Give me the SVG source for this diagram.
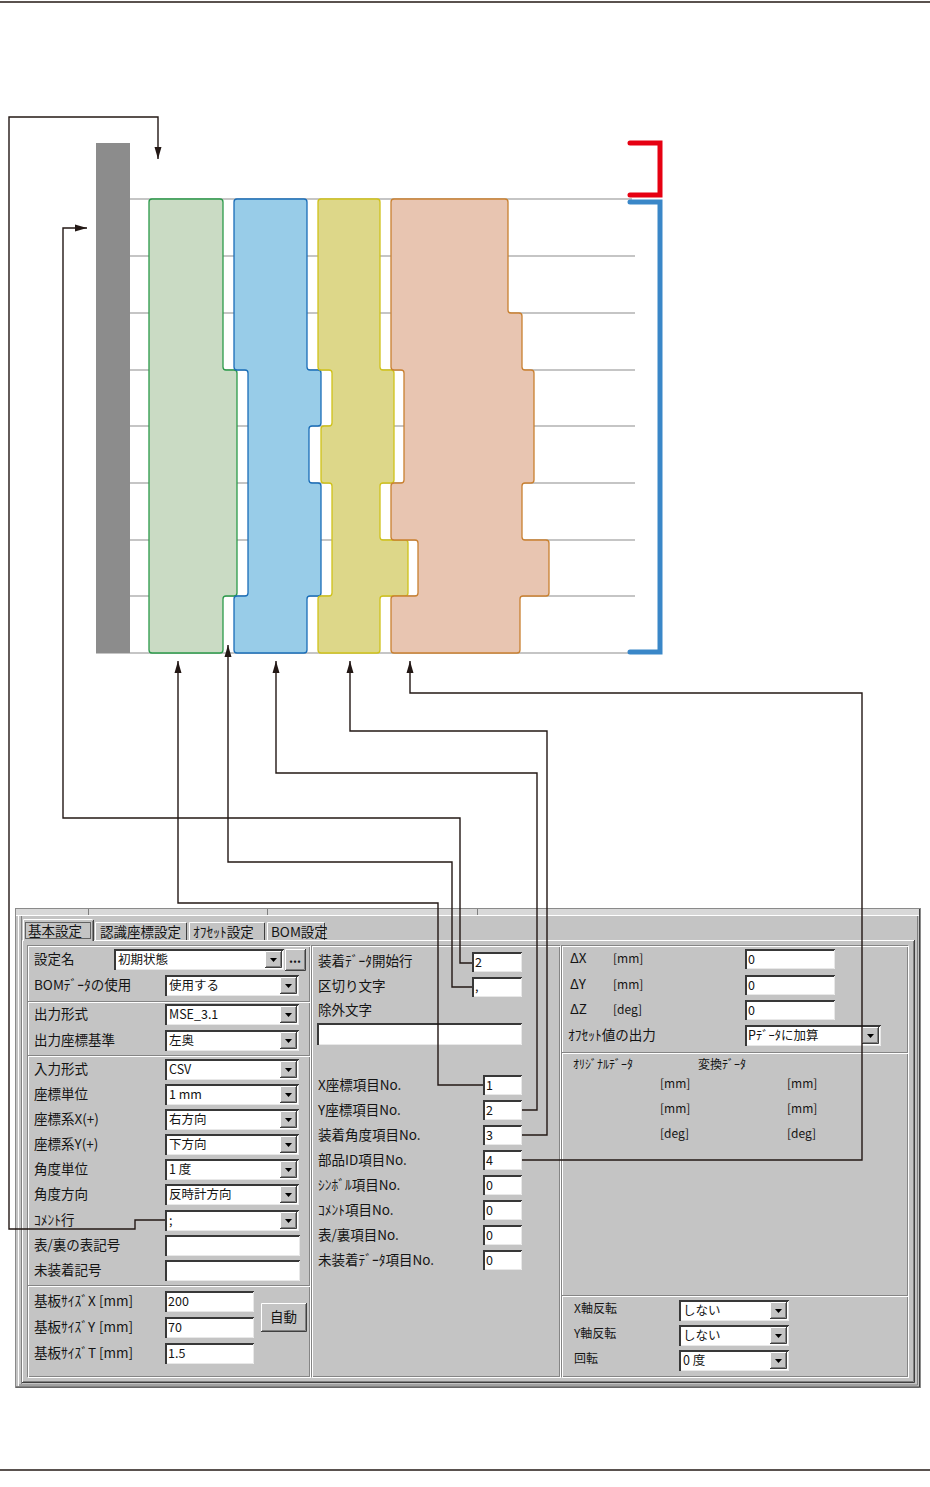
<svg xmlns="http://www.w3.org/2000/svg" width="930" height="1487" viewBox="0 0 930 1487">
<style>
.t{font-family:"Noto Sans CJK JP","Noto Sans CJK SC",sans-serif;font-size:13.5px;fill:#141414}
.v{font-family:"Noto Sans CJK JP","Noto Sans CJK SC",sans-serif;font-size:12.5px;fill:#141414}
.s{font-family:"Noto Sans CJK JP","Noto Sans CJK SC",sans-serif;font-size:12px;fill:#141414}
.grid{stroke:#8c8c8c;stroke-width:1.2;fill:none}
.col{stroke-width:1.3;stroke-linejoin:round}
.con{fill:none;stroke:#231815;stroke-width:1.4;marker-end:url(#ah)}
.fw{fill:#fff}
.fd{fill:none;stroke:#383838;stroke-width:2}
.fl{fill:none;stroke:#e8e8e8;stroke-width:1}
.gd{fill:none;stroke:#858585;stroke-width:1}
.gw{fill:none;stroke:#fff;stroke-width:1}
.dk{fill:none;stroke:#404040;stroke-width:1}
.md{fill:none;stroke:#808080;stroke-width:1}
.face{fill:#c4c4c4}
</style>
<defs>
<marker id="ah" markerUnits="userSpaceOnUse" markerWidth="13" markerHeight="8" refX="12" refY="4" orient="auto" viewBox="0 0 13 8"><path d="M0,0.5 L12,4 L0,7.5 z" fill="#231815"/></marker>
<g id="dd">
<rect width="17" height="17" fill="#c4c4c4"/>
<path d="M0.5,17 V0.5 H17" fill="none" stroke="#fff"/>
<path d="M16.5,0 V16.5 H0" fill="none" stroke="#404040"/>
<path d="M15.5,1 V15.5 H1" fill="none" stroke="#808080"/>
<path d="M5,7 h7 l-3.5,4 z" fill="#000"/>
</g>
</defs>

<rect width="930" height="1487" fill="#fff"/>
<line x1="0" y1="2" x2="930" y2="2" stroke="#231815" stroke-width="1.4"/>
<line x1="0" y1="1470" x2="930" y2="1470" stroke="#231815" stroke-width="1.4"/>

<g id="board">
<rect x="96" y="143" width="34" height="510" fill="#8c8c8c"/>
<path class="grid" d="M130,199H632M130,256H635M130,313H635M130,370H635M130,426H635M130,483H635M130,540H635M130,596H635M96,653H632"/>
</g>
<g id="bracket-red"><path d="M630,143H660V195H630" fill="none" stroke="#e60012" stroke-width="5" stroke-linecap="round"/></g>
<g id="bracket-blue"><path d="M630,202H660V652H630" fill="none" stroke="#3a87c8" stroke-width="5" stroke-linecap="round"/></g>

<g id="col-green"><path class="col" fill="#cadbc4" stroke="#2b9a4a" d="M152,199H220Q223,199 223,202V367Q223,370 226,370H234Q237,370 237,373V593Q237,596 234,596H226Q223,596 223,599V650Q223,653 220,653H152Q149,653 149,650V202Q149,199 152,199Z"/></g>
<g id="col-blue"><path class="col" fill="#98cce8" stroke="#1a6db8" d="M237,199H304Q307,199 307,202V367Q307,370 310,370H318Q321,370 321,373V423Q321,426 318,426H312Q309,426 309,429V480Q309,483 312,483H318Q321,483 321,486V593Q321,596 318,596H310Q307,596 307,599V650Q307,653 304,653H237Q234,653 234,650V599Q234,596 237,596H245Q248,596 248,593V373Q248,370 245,370H237Q234,370 234,367V202Q234,199 237,199Z"/></g>
<g id="col-yellow"><path class="col" fill="#ddd789" stroke="#d0c21a" d="M321,199H377Q380,199 380,202V367Q380,370 383,370H391Q394,370 394,373V480Q394,483 391,483H383Q380,483 380,486V537Q380,540 383,540H405Q408,540 408,543V593Q408,596 405,596H383Q380,596 380,599V650Q380,653 377,653H321Q318,653 318,650V599Q318,596 321,596H329Q332,596 332,593V486Q332,483 329,483H324Q321,483 321,480V429Q321,426 324,426H329Q332,426 332,423V373Q332,370 329,370H321Q318,370 318,367V202Q318,199 321,199Z"/></g>
<g id="col-orange"><path class="col" fill="#e8c5b1" stroke="#c98030" d="M394,199H505Q508,199 508,202V310Q508,313 511,313H519Q522,313 522,316V367Q522,370 525,370H531Q534,370 534,373V480Q534,483 531,483H525Q522,483 522,486V537Q522,540 525,540H546Q549,540 549,543V593Q549,596 546,596H523Q520,596 520,599V650Q520,653 517,653H394Q391,653 391,650V599Q391,596 394,596H415Q418,596 418,593V543Q418,540 415,540H394Q391,540 391,537V486Q391,483 394,483H401Q404,483 404,480V373Q404,370 401,370H394Q391,370 391,367V202Q391,199 394,199Z"/></g>

<g id="dialog">
<rect x="15.5" y="908.5" width="905" height="479" class="face" stroke="#8a8a8a"/>
<rect x="16" y="909" width="904" height="6" fill="#d8d8d8"/>
<path d="M16,915.5H920" class="gw"/>
<path d="M88.5,909V915M267.5,909V915M477.5,909V915" class="md"/>
<path d="M18.5,916V1386" class="gw"/>
<path d="M21.5,916V1384" class="md"/>
<path d="M917.5,916V1385H19" class="md"/>
<path d="M919.5,909V1387H16" class="dk"/>

<g id="tabs">
<path d="M22.5,1382V940.5H23M94,940.5H914" class="gw"/>
<path d="M914.5,940V1382.5H22" class="dk"/>
<path d="M913.5,941V1381.5H23" class="md"/>
<rect x="23" y="919" width="71" height="22" class="face"/>
<path d="M23.5,941V919.5H92.5" class="gw"/>
<path d="M93.5,920V941" class="dk"/>
<path d="M92.5,921V941" class="md"/>
<path d="M95.5,940V922.5H186" class="gw"/>
<path d="M186.5,923V940" class="dk"/>
<path d="M189.5,940V922.5H264" class="gw"/>
<path d="M264.5,923V940" class="dk"/>
<path d="M267.5,940V922.5H324" class="gw"/>
<path d="M324.5,923V940" class="dk"/>
<rect x="25.5" y="922.5" width="65" height="16" fill="none" stroke="#000" stroke-dasharray="1 1"/>
<text class="t" x="28" y="936">基本設定</text>
<text class="t" x="100" y="937">認識座標設定</text>
<text class="t" x="193" y="937">ｵﾌｾｯﾄ設定</text>
<text class="t" x="271" y="937">BOM設定</text>
</g>

<g id="panel-left">
<rect x="27.5" y="945.5" width="282" height="431" class="gd"/>
<rect x="28.5" y="946.5" width="282" height="431" class="gw"/>
<path d="M28,1001.5H310M28,1055.5H310M28,1285.5H310" class="gd"/>
<path d="M29,1002.5H310M29,1056.5H310M29,1286.5H310" class="gw"/>
<text class="t" x="34" y="964">設定名</text>
<text class="t" x="34" y="990">BOMﾃﾞｰﾀの使用</text>
<text class="t" x="34" y="1019">出力形式</text>
<text class="t" x="34" y="1045">出力座標基準</text>
<text class="t" x="34" y="1074">入力形式</text>
<text class="t" x="34" y="1099">座標単位</text>
<text class="t" x="34" y="1124">座標系X(+)</text>
<text class="t" x="34" y="1149">座標系Y(+)</text>
<text class="t" x="34" y="1174">角度単位</text>
<text class="t" x="34" y="1199">角度方向</text>
<text class="t" x="34" y="1225">ｺﾒﾝﾄ行</text>
<text class="t" x="34" y="1250">表/裏の表記号</text>
<text class="t" x="34" y="1275">未装着記号</text>
<text class="t" x="34" y="1306">基板ｻｲｽﾞX<tspan x="99">[mm]</tspan></text>
<text class="t" x="34" y="1332">基板ｻｲｽﾞY<tspan x="99">[mm]</tspan></text>
<text class="t" x="34" y="1358">基板ｻｲｽﾞT<tspan x="99">[mm]</tspan></text>

<rect class="fw" x="114" y="949" width="170" height="21"/><path class="fd" d="M115,970V950H284"/><path class="fl" d="M283.5,950V969.5H116"/><use href="#dd" x="265" y="951"/><text class="v" x="118" y="964">初期状態</text>
<rect x="285" y="949" width="20" height="21" class="face"/><path d="M285.5,970V949.5H305" class="gw"/><path d="M305.5,949V970.5H285" class="dk"/><path d="M304.5,950V969.5H286" class="md"/><text class="v" x="295" y="963" text-anchor="middle" font-weight="bold">...</text>

<rect class="fw" x="165" y="975" width="134" height="21"/><path class="fd" d="M166,996V976H299"/><path class="fl" d="M298.5,976V995.5H167"/><use href="#dd" x="280" y="977"/><text class="v" x="169" y="990">使用する</text>
<rect class="fw" x="165" y="1004" width="134" height="21"/><path class="fd" d="M166,1025V1005H299"/><path class="fl" d="M298.5,1005V1024.5H167"/><use href="#dd" x="280" y="1006"/><text class="v" x="169" y="1019">MSE_3.1</text>
<rect class="fw" x="165" y="1030" width="134" height="21"/><path class="fd" d="M166,1051V1031H299"/><path class="fl" d="M298.5,1031V1050.5H167"/><use href="#dd" x="280" y="1032"/><text class="v" x="169" y="1045">左奥</text>
<rect class="fw" x="165" y="1059" width="134" height="21"/><path class="fd" d="M166,1080V1060H299"/><path class="fl" d="M298.5,1060V1079.5H167"/><use href="#dd" x="280" y="1061"/><text class="v" x="169" y="1074">CSV</text>
<rect class="fw" x="165" y="1084" width="134" height="21"/><path class="fd" d="M166,1105V1085H299"/><path class="fl" d="M298.5,1085V1104.5H167"/><use href="#dd" x="280" y="1086"/><text class="v" x="169" y="1099">1 mm</text>
<rect class="fw" x="165" y="1109" width="134" height="21"/><path class="fd" d="M166,1130V1110H299"/><path class="fl" d="M298.5,1110V1129.5H167"/><use href="#dd" x="280" y="1111"/><text class="v" x="169" y="1124">右方向</text>
<rect class="fw" x="165" y="1134" width="134" height="21"/><path class="fd" d="M166,1155V1135H299"/><path class="fl" d="M298.5,1135V1154.5H167"/><use href="#dd" x="280" y="1136"/><text class="v" x="169" y="1149">下方向</text>
<rect class="fw" x="165" y="1159" width="134" height="21"/><path class="fd" d="M166,1180V1160H299"/><path class="fl" d="M298.5,1160V1179.5H167"/><use href="#dd" x="280" y="1161"/><text class="v" x="169" y="1174">1 度</text>
<rect class="fw" x="165" y="1184" width="134" height="21"/><path class="fd" d="M166,1205V1185H299"/><path class="fl" d="M298.5,1185V1204.5H167"/><use href="#dd" x="280" y="1186"/><text class="v" x="169" y="1199">反時計方向</text>
<rect class="fw" x="165" y="1210" width="134" height="21"/><path class="fd" d="M166,1231V1211H299"/><path class="fl" d="M298.5,1211V1230.5H167"/><use href="#dd" x="280" y="1212"/><text class="v" x="169" y="1225">;</text>
<rect class="fw" x="165" y="1235" width="135" height="21"/><path class="fd" d="M166,1256V1236H300"/><path class="fl" d="M299.5,1236V1255.5H167"/>
<rect class="fw" x="165" y="1260" width="135" height="21"/><path class="fd" d="M166,1281V1261H300"/><path class="fl" d="M299.5,1261V1280.5H167"/>
<rect class="fw" x="165" y="1291" width="89" height="21"/><path class="fd" d="M166,1312V1292H254"/><path class="fl" d="M253.5,1292V1311.5H167"/><text class="v" x="168" y="1306">200</text>
<rect class="fw" x="165" y="1317" width="89" height="21"/><path class="fd" d="M166,1338V1318H254"/><path class="fl" d="M253.5,1318V1337.5H167"/><text class="v" x="168" y="1332">70</text>
<rect class="fw" x="165" y="1343" width="89" height="21"/><path class="fd" d="M166,1364V1344H254"/><path class="fl" d="M253.5,1344V1363.5H167"/><text class="v" x="168" y="1358">1.5</text>
<rect x="261" y="1303" width="45" height="28" class="face"/><path d="M261.5,1331V1303.5H306" class="gw"/><path d="M306.5,1303V1331.5H261" class="dk"/><path d="M305.5,1304V1330.5H262" class="md"/><text class="t" x="283.5" y="1322" text-anchor="middle">自動</text>
</g>

<g id="panel-middle">
<rect x="311.5" y="945.5" width="248" height="431" class="gd"/>
<rect x="312.5" y="946.5" width="248" height="431" class="gw"/>
<text class="t" x="318" y="966">装着ﾃﾞｰﾀ開始行</text>
<text class="t" x="318" y="991">区切り文字</text>
<text class="t" x="318" y="1015">除外文字</text>
<text class="t" x="318" y="1090">X座標項目No.</text>
<text class="t" x="318" y="1115">Y座標項目No.</text>
<text class="t" x="318" y="1140">装着角度項目No.</text>
<text class="t" x="318" y="1165">部品ID項目No.</text>
<text class="t" x="318" y="1190">ｼﾝﾎﾞﾙ項目No.</text>
<text class="t" x="318" y="1215">ｺﾒﾝﾄ項目No.</text>
<text class="t" x="318" y="1240">表/裏項目No.</text>
<text class="t" x="318" y="1265">未装着ﾃﾞｰﾀ項目No.</text>
<rect class="fw" x="472" y="952" width="50" height="20"/><path class="fd" d="M473,972V953H522"/><path class="fl" d="M521.5,953V971.5H474"/><text class="v" x="475" y="967">2</text>
<rect class="fw" x="472" y="977" width="50" height="20"/><path class="fd" d="M473,997V978H522"/><path class="fl" d="M521.5,978V996.5H474"/><text class="v" x="475" y="991">,</text>
<rect class="fw" x="317" y="1023" width="205" height="22"/><path class="fd" d="M318,1045V1024H522"/><path class="fl" d="M521.5,1024V1044.5H319"/>
<rect class="fw" x="483" y="1075" width="39" height="20"/><path class="fd" d="M484,1095V1076H522"/><path class="fl" d="M521.5,1076V1094.5H485"/><text class="v" x="486" y="1090">1</text>
<rect class="fw" x="483" y="1100" width="39" height="20"/><path class="fd" d="M484,1120V1101H522"/><path class="fl" d="M521.5,1101V1119.5H485"/><text class="v" x="486" y="1115">2</text>
<rect class="fw" x="483" y="1125" width="39" height="20"/><path class="fd" d="M484,1145V1126H522"/><path class="fl" d="M521.5,1126V1144.5H485"/><text class="v" x="486" y="1140">3</text>
<rect class="fw" x="483" y="1150" width="39" height="20"/><path class="fd" d="M484,1170V1151H522"/><path class="fl" d="M521.5,1151V1169.5H485"/><text class="v" x="486" y="1165">4</text>
<rect class="fw" x="483" y="1175" width="39" height="20"/><path class="fd" d="M484,1195V1176H522"/><path class="fl" d="M521.5,1176V1194.5H485"/><text class="v" x="486" y="1190">0</text>
<rect class="fw" x="483" y="1200" width="39" height="20"/><path class="fd" d="M484,1220V1201H522"/><path class="fl" d="M521.5,1201V1219.5H485"/><text class="v" x="486" y="1215">0</text>
<rect class="fw" x="483" y="1225" width="39" height="20"/><path class="fd" d="M484,1245V1226H522"/><path class="fl" d="M521.5,1226V1244.5H485"/><text class="v" x="486" y="1240">0</text>
<rect class="fw" x="483" y="1250" width="39" height="20"/><path class="fd" d="M484,1270V1251H522"/><path class="fl" d="M521.5,1251V1269.5H485"/><text class="v" x="486" y="1265">0</text>
</g>

<g id="panel-right">
<rect x="561.5" y="945.5" width="346" height="431" class="gd"/>
<rect x="562.5" y="946.5" width="346" height="431" class="gw"/>
<path d="M562,1052.5H908M562,1295.5H908" class="gd"/>
<path d="M563,1053.5H908M563,1296.5H908" class="gw"/>
<text class="t" x="570" y="963">ΔX</text><text class="s" x="613" y="963">[mm]</text>
<text class="t" x="570" y="989">ΔY</text><text class="s" x="613" y="989">[mm]</text>
<text class="t" x="570" y="1014">ΔZ</text><text class="s" x="613" y="1014">[deg]</text>
<rect class="fw" x="745" y="949" width="90" height="20"/><path class="fd" d="M746,969V950H835"/><path class="fl" d="M834.5,950V968.5H747"/><text class="v" x="748" y="964">0</text>
<rect class="fw" x="745" y="975" width="90" height="20"/><path class="fd" d="M746,995V976H835"/><path class="fl" d="M834.5,976V994.5H747"/><text class="v" x="748" y="990">0</text>
<rect class="fw" x="745" y="1000" width="90" height="20"/><path class="fd" d="M746,1020V1001H835"/><path class="fl" d="M834.5,1001V1019.5H747"/><text class="v" x="748" y="1015">0</text>
<text class="t" x="568" y="1040">ｵﾌｾｯﾄ値の出力</text>
<rect class="fw" x="745" y="1025" width="136" height="21"/><path class="fd" d="M746,1046V1026H881"/><path class="fl" d="M880.5,1026V1045.5H747"/><use href="#dd" x="862" y="1027"/><text class="v" x="748" y="1040">Pﾃﾞｰﾀに加算</text>
<text class="s" x="573" y="1069">ｵﾘｼﾞﾅﾙﾃﾞｰﾀ</text>
<text class="s" x="698" y="1069">変換ﾃﾞｰﾀ</text>
<text class="s" x="660" y="1088">[mm]</text><text class="s" x="787" y="1088">[mm]</text>
<text class="s" x="660" y="1113">[mm]</text><text class="s" x="787" y="1113">[mm]</text>
<text class="s" x="660" y="1138">[deg]</text><text class="s" x="787" y="1138">[deg]</text>
<text class="s" x="574" y="1313">X軸反転</text>
<text class="s" x="574" y="1338">Y軸反転</text>
<text class="s" x="574" y="1363">回転</text>
<rect class="fw" x="679" y="1300" width="110" height="21"/><path class="fd" d="M680,1321V1301H789"/><path class="fl" d="M788.5,1301V1320.5H681"/><use href="#dd" x="770" y="1302"/><text class="v" x="683" y="1315">しない</text>
<rect class="fw" x="679" y="1325" width="110" height="21"/><path class="fd" d="M680,1346V1326H789"/><path class="fl" d="M788.5,1326V1345.5H681"/><use href="#dd" x="770" y="1327"/><text class="v" x="683" y="1340">しない</text>
<rect class="fw" x="679" y="1350" width="110" height="21"/><path class="fd" d="M680,1371V1351H789"/><path class="fl" d="M788.5,1351V1370.5H681"/><use href="#dd" x="770" y="1352"/><text class="v" x="683" y="1365">0 度</text>
</g>
</g>

<g id="connectors">
<path class="con" d="M165,1220H135V1229H9V117H158V159"/>
<path class="con" d="M472,963H460V818H63V228H87"/>
<path class="con" d="M472,987H452V862H228V645"/>
<path class="con" d="M483,1085H438V903H178V661"/>
<path class="con" d="M522,1110H537V773H276V661"/>
<path class="con" d="M522,1135H547V731H350V661"/>
<path class="con" d="M522,1160H862V693H410V661"/>
</g>
</svg>
